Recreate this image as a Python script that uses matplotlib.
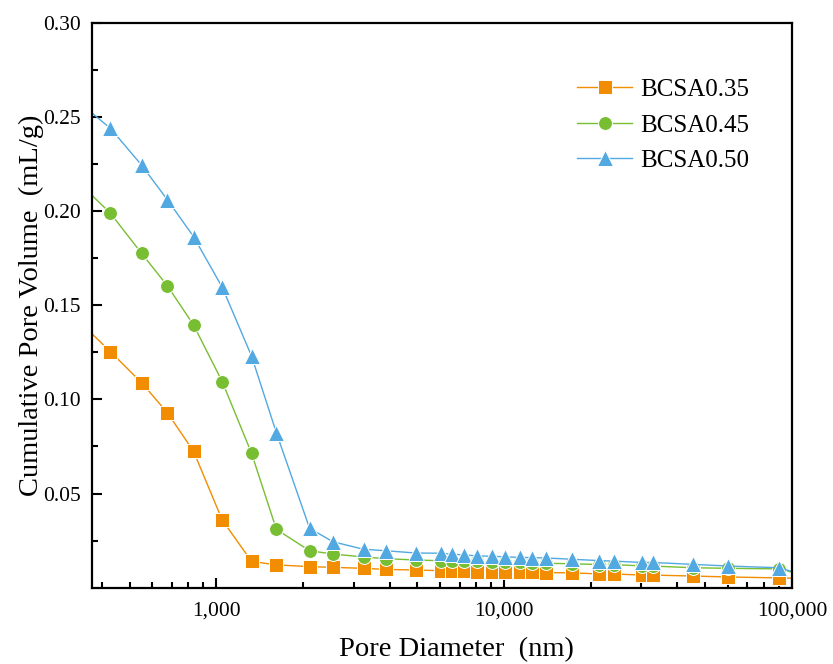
import numpy as np
import matplotlib.pyplot as plt
from matplotlib.ticker import FixedLocator, FuncFormatter, LogLocator, NullFormatter

plt.rcParams['font.family'] = ['Liberation Serif', 'DejaVu Serif']
plt.rcParams['mathtext.fontset'] = 'stix'

# pore diameter (nm), shared by all three samples
diameter = [335, 429, 550, 677, 834, 1049, 1326, 1617, 2110, 2543, 3252, 3894, 4960,
            6057, 6596, 7243, 8055, 9061, 10056, 11340, 12514, 13932, 17236, 21292,
            24070, 30186, 32810, 45191, 60097, 90193, 110000]

bcsa035 = [0.1412, 0.1253, 0.1089, 0.0928, 0.0724, 0.0359, 0.0140, 0.0121, 0.0112, 0.0108,
           0.0103, 0.0097, 0.0094, 0.0090, 0.0090, 0.0090, 0.0085, 0.0085, 0.0085, 0.0085,
           0.0084, 0.0080, 0.0079, 0.0073, 0.0073, 0.0067, 0.0067, 0.0062, 0.0057, 0.0052,
           0.0050]
bcsa045 = [0.2147, 0.1988, 0.1776, 0.1602, 0.1395, 0.1094, 0.0714, 0.0310, 0.0196, 0.0179,
           0.0163, 0.0154, 0.0147, 0.0143, 0.0143, 0.0142, 0.0140, 0.0138, 0.0136, 0.0134,
           0.0132, 0.0130, 0.0127, 0.0123, 0.0122, 0.0116, 0.0115, 0.0106, 0.0103, 0.0100,
           0.0066]
bcsa050 = [0.2575, 0.2439, 0.2244, 0.2059, 0.1864, 0.1595, 0.1230, 0.0823, 0.0315, 0.0244,
           0.0204, 0.0196, 0.0184, 0.0183, 0.0178, 0.0174, 0.0169, 0.0167, 0.0164, 0.0161,
           0.0160, 0.0158, 0.0151, 0.0144, 0.0141, 0.0134, 0.0134, 0.0124, 0.0115, 0.0106,
           0.0068]

labels = ["BCSA0.35", "BCSA0.45", "BCSA0.50"]
colors = ["#F28C00", "#78BE32", "#52A9E2"]
markers = ["s", "o", "^"]
sizes = [9.5, 10, 11.5]

fig = plt.figure(figsize=(8.33, 6.64), dpi=100)
ax = fig.add_axes([0.1104, 0.1149, 0.8404, 0.8509])

for y, lab, c, m, s in zip([bcsa035, bcsa045, bcsa050], labels, colors, markers, sizes):
    ax.plot(diameter, y, color=c, lw=1.0, marker=m, markersize=s,
            markerfacecolor=c, markeredgecolor="white", markeredgewidth=0.7, label=lab)

ax.set_xscale("log")
ax.set_xlim(370, 100000)
ax.set_ylim(0, 0.30)

ax.xaxis.set_major_locator(FixedLocator([1000, 10000, 100000]))
ax.xaxis.set_major_formatter(FuncFormatter(lambda v, p: "{:,.0f}".format(v)))
ax.xaxis.set_minor_locator(LogLocator(base=10, subs=np.arange(2, 10)))
ax.xaxis.set_minor_formatter(NullFormatter())
ax.set_yticks([0.05, 0.10, 0.15, 0.20, 0.25, 0.30])
ax.set_yticklabels(["0.05", "0.10", "0.15", "0.20", "0.25", "0.30"])
ax.set_yticks(np.arange(0.025, 0.3, 0.05), minor=True)

ax.tick_params(which="both", direction="in", top=False, right=False, labelsize=15.5, width=1.5)
ax.tick_params(which="major", length=7)
ax.tick_params(which="minor", length=4.5)
ax.tick_params(axis="x", pad=10)
ax.tick_params(axis="y", pad=8)
for sp in ax.spines.values():
    sp.set_linewidth(1.6)

ax.set_xlabel("Pore Diameter  (nm)", fontsize=20.5, labelpad=12)
ax.xaxis.label.set_x(0.521)
ax.set_ylabel("Cumulative Pore Volume  (mL/g)", fontsize=20.5, labelpad=-1)

ax.legend(loc="upper left", bbox_to_anchor=(0.693, 0.901), frameon=False, fontsize=18,
          handlelength=2.2, labelspacing=0.52, handletextpad=0.32,
          borderpad=0, borderaxespad=0)

fig.savefig("out.png", dpi=100)
